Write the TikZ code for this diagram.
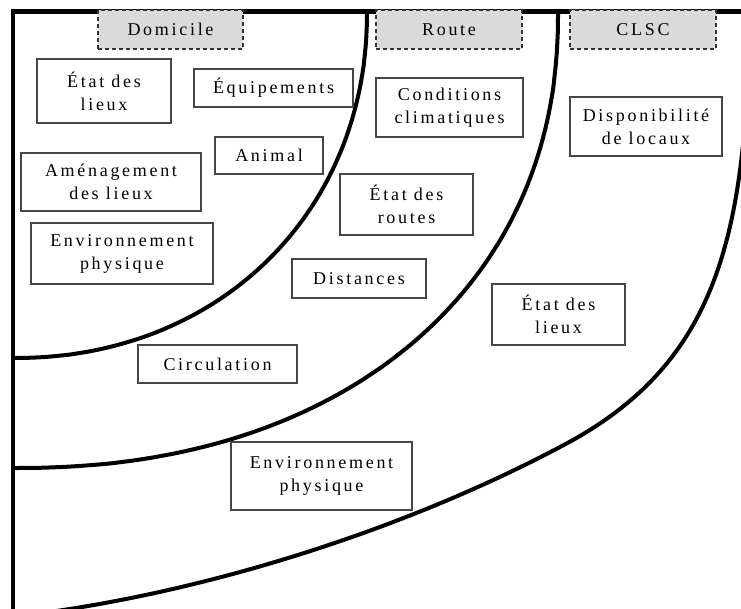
\documentclass[tikz,border=0pt]{standalone}
\usepackage{fontspec}
\setmainfont{Liberation Serif}
\newfontfamily\spacedfont[LetterSpace=15]{Liberation Serif}
\newcommand\boxtxt{\spacedfont\fontsize{18}{23}\selectfont}
\definecolor{boxgray}{RGB}{70,70,70}
\definecolor{headgray}{RGB}{218,218,218}
\begin{document}
\begin{tikzpicture}[x=1pt,y=-1pt,
  frameline/.style={line width=4.5pt, black, line join=miter},
  arcline/.style={line width=4pt, black},
  box/.style={draw=boxgray, line width=1.1pt, fill=white, inner sep=0pt, align=center, font=\boxtxt},
  head/.style={box, fill=headgray, draw=black!80, dash pattern=on 4pt off 3pt}]
\useasboundingbox (0,0) rectangle (741,609);
\begin{scope}
\clip (0,0) rectangle (741,609);
% frame
\draw[frameline] (13,620) -- (13,11.5) -- (750,11.5);
% arcs
\draw[arcline] plot[domain=0.05:89.95, samples=90, variable=\t]
  ({13+354*pow(cos(\t),2/2.1)}, {11+347*pow(sin(\t),2/2.1)});
\draw[arcline] plot[domain=0.05:89.95, samples=90, variable=\t]
  ({13+545*pow(cos(\t),2/2.2)}, {11+457*pow(sin(\t),2/2.2)});
\draw[arcline] (749,40) .. controls (744,250) and (710,369) .. (560,447)
  .. controls (392,536) and (180,600) .. (0,618);
\end{scope}
% headers
\node[head, minimum width=145pt, minimum height=39pt] (hdom) at (170.5,29.5) {Domicile};
\node[head, minimum width=146pt, minimum height=39pt] (hroute) at (449,29.5) {Route};
\node[head, minimum width=146pt, minimum height=39pt] (hclsc) at (643,29.5) {CLSC};
% domicile boxes
\node[box, minimum width=134pt, minimum height=64pt] (d1) at (104,91) {État des\\lieux};
\node[box, minimum width=159pt, minimum height=38pt] (d2) at (273.5,88) {Équipements};
\node[box, minimum width=108pt, minimum height=37pt] (d3) at (269,155.5) {Animal};
\node[box, minimum width=180pt, minimum height=58pt] (d4) at (111,182) {Aménagement\\des lieux};
\node[box, minimum width=182pt, minimum height=61pt] (d5) at (122,253.5) {Environnement\\physique};
% route boxes
\node[box, minimum width=147pt, minimum height=59pt] (r1) at (449.5,107.5) {Conditions\\climatiques};
\node[box, minimum width=133pt, minimum height=61pt] (r2) at (406.5,204.5) {État des\\routes};
\node[box, minimum width=134pt, minimum height=39pt] (r3) at (359,278.5) {Distances};
\node[box, minimum width=159pt, minimum height=38pt] (r4) at (217.5,364) {Circulation};
% clsc boxes
\node[box, minimum width=152pt, minimum height=59pt] (c1) at (646,126.5) {Disponibilité\\de locaux};
\node[box, minimum width=133pt, minimum height=61pt] (c2) at (558.5,314.5) {État des\\lieux};
\node[box, minimum width=181pt, minimum height=68pt] (c3) at (321.5,476) {Environnement\\physique};
\end{tikzpicture}
\end{document}
